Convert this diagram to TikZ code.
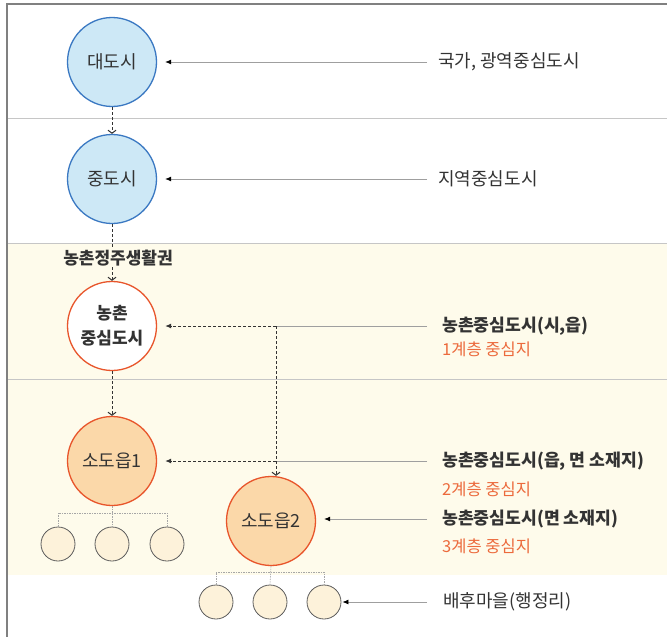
\documentclass[tikz,border=0pt]{standalone}
\usepackage{fontspec}
\setmainfont{Noto Sans CJK KR}
\usepackage{tikz}
\usepackage{xcolor}
\usetikzlibrary{positioning, arrows.meta}

\definecolor{cityblue}{HTML}{CDE8F6}
\definecolor{cityedge}{HTML}{3A78C2}
\definecolor{ruraledge}{HTML}{E8552B}
\definecolor{townfill}{HTML}{FBD8A9}
\definecolor{villfill}{HTML}{FDF2DA}
\definecolor{beige}{HTML}{FEFBEB}
\definecolor{tiertext}{HTML}{EC6A3C}
\definecolor{ink}{HTML}{333333}

\begin{document}
\begin{tikzpicture}[x=1pt, y=-1pt, text=ink,
    circ/.style = {draw, circle, minimum size=89pt, inner sep=0pt, line width=1.3pt, font=\fontsize{18}{20}\selectfont},
    bigblue/.style = {circ, fill=cityblue, draw=cityedge},
    bigrural/.style = {circ, fill=white, draw=ruraledge, align=center, font=\fontsize{17}{25}\selectfont\bfseries},
    bigtown/.style = {circ, fill=townfill, draw=ruraledge},
    vill/.style = {draw=ink!80, fill=villfill, circle, minimum size=34pt, inner sep=0pt, line width=0.8pt},
    lbl/.style = {anchor=west, inner sep=0pt, font=\fontsize{18}{20}\selectfont},
    lblb/.style = {lbl, font=\fontsize{17.2}{20}\selectfont\bfseries},
    tier/.style = {lbl, text=tiertext, font=\fontsize{16.5}{18}\selectfont},
    feed/.style = {draw=gray!75, line width=0.8pt},
    fed/.style = {feed, -{Latex[length=6pt, width=5pt, black]}, shorten >=8pt},
    link/.style = {draw=ink, line width=1pt, dash pattern=on 3pt off 2pt, -{Latex[length=6pt, width=5pt]}, shorten >=8pt},
    down/.style = {draw=ink, line width=1pt, dash pattern=on 3pt off 2pt, -{Straight Barb[length=3pt, width=8pt]}},
    tree/.style = {draw=gray!70, line width=0.6pt, dash pattern=on 1.5pt off 1pt},
    sep/.style = {draw=gray!45, line width=0.8pt}]

    \useasboundingbox (0,0) rectangle (667,637);

    % Bands
    \fill[beige] (7,243) rectangle (667,575);
    \draw[sep] (7,118) -- (667,118);
    \draw[sep] (7,243) -- (667,243);
    \draw[sep] (7,379) -- (667,379);
    \draw[gray, line width=1.5pt] (7,637) |- (667,4);

    % Nodes
    \node[bigblue] (dae) at (112,62) {대도시};
    \node[bigblue] (jung) at (112,179) {중도시};
    \node[bigrural] (nong) at (112,326) {농촌\\중심도시};
    \node[bigtown] (so1) at (112,461) {소도읍1};
    \node[bigtown] (so2) at (271,521) {소도읍2};
    \foreach \i/\x in {1/58, 2/112, 3/167}
        \node[vill] (a\i) at (\x,544) {};
    \foreach \i/\x in {1/216, 2/270, 3/324}
        \node[vill] (b\i) at (\x,602) {};

    \node[font=\fontsize{17}{18}\selectfont\bfseries, inner sep=1pt] (life) at (118,258) {농촌정주생활권};

    % Labels
    \node[lbl] (tDae) at (438,62) {국가, 광역중심도시};
    \node[lbl] (tJung) at (438,179) {지역중심도시};
    \node[lblb] (tNong) at (442,326) {농촌중심도시(시,읍)};
    \node[tier] (tNong2) at (442,349) {1계층 중심지};
    \node[lblb] (tSo1) at (442,461) {농촌중심도시(읍, 면 소재지)};
    \node[tier] (tSo12) at (442,489) {2계층 중심지};
    \node[lblb] (tSo2) at (442,519) {농촌중심도시(면 소재지)};
    \node[tier] (tSo22) at (442,546) {3계층 중심지};
    \node[lbl] (tVill) at (443,602) {배후마을(행정리)};

    \coordinate (j1) at (276,326);
    \coordinate (j2) at (276,461);
    \coordinate (h1) at (112,513);
    \coordinate (h2) at (270,572);

    % Lines
    \draw[fed] ([xshift=-11pt]tDae.west) -- (dae);
    \draw[fed] ([xshift=-11pt]tJung.west) -- (jung);
    \draw[feed] ([xshift=-15pt]tNong.west) -- (j1);
    \draw[link] (j1) -- (nong);
    \draw[feed] ([xshift=-15pt]tSo1.west) -- (j2);
    \draw[link] (j2) -- (so1);
    \draw[fed] ([xshift=-15pt]tSo2.west) -- (so2.east |- tSo2.west);
    \draw[fed, shorten >=1pt] ([xshift=-16pt]tVill.west) -- (b3);

    \draw[down] (dae) -- (jung);
    \draw[down, -] (jung) -- (jung.south |- life.north);
    \draw[down] (jung.south |- life.south) -- (nong);
    \draw[down] (nong) -- (so1);
    \draw[down] (j1) -- (j1 |- so2.north);

    \draw[tree] (a1.north) |- (h1) -| (a3.north);
    \draw[tree] (so1.south) -- (a2.north);
    \draw[tree] (b1.north) |- (h2) -| (b3.north);
    \draw[tree] (so2.south) -- (b2.north);

\end{tikzpicture}
\end{document}
